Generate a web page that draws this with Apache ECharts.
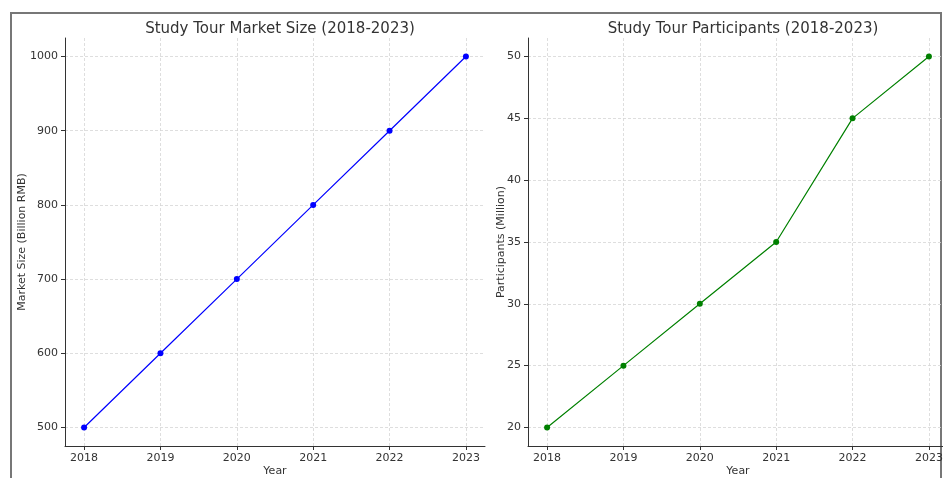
<!DOCTYPE html>
<html>
<head>
<meta charset="utf-8">
<script src="https://cdn.jsdelivr.net/npm/echarts@6/dist/echarts.min.js"></script>
<style>
  html, body { margin: 0; padding: 0; background: #fff; }
  #chart { width: 943px; height: 478px; }
</style>
</head>
<body>
<div id="chart"></div>
<script>
// data
var years = [2018, 2019, 2020, 2021, 2022, 2023];
var marketSize = [500, 600, 700, 800, 900, 1000];   // Billion RMB
var participants = [20, 25, 30, 35, 45, 50];         // Million
var marketTicks = [500, 600, 700, 800, 900, 1000];
var partTicks = [20, 25, 30, 35, 40, 45, 50];

var font = 'DejaVu Sans';
var txt = '#333';

function pairs(xs, ys) {
  return xs.map(function (x, i) { return [x, ys[i]]; });
}

function plain(v) { return String(v); }

// 共用的x轴设置
function xAxisOf(idx, nameGap) {
  return {
    type: 'value',
    gridIndex: idx,
    min: 2017.75,
    max: 2023.25,
    name: 'Year',
    nameLocation: 'middle',
    nameGap: nameGap,
    nameMoveOverlap: false,
    nameTextStyle: { color: txt, fontFamily: font, fontSize: 11 },
    axisLine: { show: true, lineStyle: { color: '#333', width: 1 } },
    axisTick: { show: true, length: 4, customValues: years, lineStyle: { color: '#333' } },
    axisLabel: { customValues: years, formatter: plain, color: txt, fontFamily: font, fontSize: 11, margin: 7 },
    splitLine: { show: true, lineStyle: { color: '#d6d6d6', type: [3, 2], width: 0.8 } }
  };
}

function yAxisOf(idx, name, min, max, ticks, nameGap) {
  return {
    type: 'value',
    gridIndex: idx,
    min: min,
    max: max,
    name: name,
    nameLocation: 'middle',
    nameGap: nameGap,
    nameMoveOverlap: false,
    nameTextStyle: { color: txt, fontFamily: font, fontSize: 11 },
    axisLine: { show: true, lineStyle: { color: '#333', width: 1 } },
    axisTick: { show: true, length: 4, customValues: ticks, lineStyle: { color: '#333' } },
    axisLabel: { customValues: ticks, formatter: plain, color: txt, fontFamily: font, fontSize: 11, margin: 7 },
    splitLine: { show: true, lineStyle: { color: '#d6d6d6', type: [3, 2], width: 0.8 } }
  };
}

var chart = echarts.init(document.getElementById('chart'));
var option = {
  animation: false,
  backgroundColor: '#fff',
  graphic: [{
    type: 'rect',
    shape: { x: 11, y: 13, width: 930, height: 480 },
    style: { fill: 'none', stroke: '#777', lineWidth: 2 },
    silent: true
  }],
  title: [
    { text: 'Study Tour Market Size (2018-2023)', left: 275, top: 17, textAlign: 'center',
      textStyle: { color: txt, fontFamily: font, fontSize: 15, fontWeight: 'normal' } },
    { text: 'Study Tour Participants (2018-2023)', left: 738, top: 17, textAlign: 'center',
      textStyle: { color: txt, fontFamily: font, fontSize: 15, fontWeight: 'normal' } }
  ],
  grid: [
    { left: 65, top: 38, width: 420, height: 408, outerBoundsMode: 'none' },
    { left: 528, top: 38, width: 420, height: 408, outerBoundsMode: 'none' }
  ],
  xAxis: [xAxisOf(0, 20), xAxisOf(1, 20)],
  yAxis: [
    yAxisOf(0, 'Market Size (Billion RMB)', 475, 1025, marketTicks, 37),
    yAxisOf(1, 'Participants (Million)', 18.5, 51.5, partTicks, 21)
  ],
  series: [
    {
      type: 'line', xAxisIndex: 0, yAxisIndex: 0,
      data: pairs(years, marketSize),
      symbol: 'circle', symbolSize: 6,
      lineStyle: { color: '#0000ff', width: 1.2 },
      itemStyle: { color: '#0000ff' }
    },
    {
      type: 'line', xAxisIndex: 1, yAxisIndex: 1,
      data: pairs(years, participants),
      symbol: 'circle', symbolSize: 6,
      lineStyle: { color: '#008000', width: 1.2 },
      itemStyle: { color: '#008000' }
    }
  ]
};
chart.setOption(option);
</script>
</body>
</html>
